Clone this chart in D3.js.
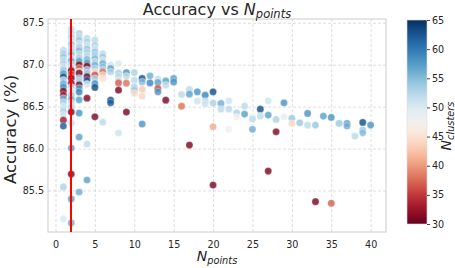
<!DOCTYPE html>
<html><head><meta charset="utf-8">
<script src="https://cdn.jsdelivr.net/npm/d3@7"></script>
<style>body{margin:0;background:#fff} svg{display:block}</style>
</head><body><svg id="c" width="455" height="268"></svg>
<script>
// ---- data ----
const nPoints = [1,2,3,4,5,6,7,8,9,10,11,12,13,14,15,16,17,18,19,20,21,22,23,24,25,26,27,28,29,30,31,32,33,34,35,36,37,38,39,40];
const accuracy = [
  [87.173,87.133,87.093,87.054,87.014,86.974,86.935,86.895,86.855,86.815,86.776,86.736,86.685,86.637,86.598,86.550,86.498,86.446,86.399,86.339,86.268,85.542,85.161],
  [87.423,87.375,87.327,87.286,87.244,87.202,87.161,87.119,87.077,87.042,87.006,86.970,86.929,86.887,86.839,86.780,86.732,86.685,86.637,86.589,86.542,86.494,86.435,86.304,86.006,85.696,85.399,85.113],
  [87.375,87.333,87.292,87.250,87.208,87.167,87.125,87.083,87.042,86.998,86.958,86.917,86.899,86.839,86.804,86.760,86.720,86.673,86.581,86.423,86.137,85.482],
  [87.315,87.274,87.232,87.190,87.149,87.107,87.065,87.024,86.982,86.940,86.899,86.857,86.815,86.768,86.601,86.054,85.625],
  [87.292,87.232,87.193,87.152,87.113,87.074,87.033,86.994,86.955,86.914,86.875,86.836,86.776,86.729,86.379],
  [87.133,87.093,87.054,87.014,86.974,86.943,86.914,86.875,86.836,86.315],
  [86.994,86.955,86.914,86.577,86.545],
  [87.014,86.902,86.863,86.815,86.783,86.696,86.185],
  [86.907,86.863,86.780,86.435],
  [86.907,86.815,86.732,86.696,86.661],
  [86.836,86.795,86.705,86.625,86.292],
  [86.867,86.783],
  [86.827,86.788,86.717,86.676],
  [86.807,86.756,86.577],
  [86.836,86.795],
  [86.645,86.506],
  [86.705,86.649,86.042],
  [86.676,86.565],
  [86.637,86.565,86.530],
  [86.676,86.542,86.260,85.565],
  [86.538,86.470],
  [86.569,86.470,86.229],
  [86.426,86.375],
  [86.506,86.411],
  [86.379,86.351,86.229],
  [86.470,86.387],
  [86.569,86.399,85.732],
  [86.348,86.200],
  [86.545,86.379],
  [86.360,86.300],
  [86.307],
  [86.419,86.280],
  [86.280,85.367],
  [86.387],
  [86.371,85.348],
  [86.300],
  [86.300,86.268],
  [86.149],
  [86.312,86.220,86.188],
  [86.280]
];
const nClusters = [
  [52,53,54,52,53,51,54,57,63,52,56,58,31,33,56,53,51,53,51,33,62,53,50],
  [52,52,53,51,54,52,53,55,51,57,53,52,31,36,31,32,53,51,54,56,52,53,31,52,57,31,57,56],
  [53,52,54,51,53,55,52,53,57,31,38,51,31,54,53,31,57,59,57,58,57,56],
  [52,53,51,54,53,52,55,57,31,53,54,31,62,51,31,52,57],
  [52,53,51,54,53,55,52,56,53,44,36,53,58,63,31],
  [52,54,51,56,55,53,38,43,45,52],
  [51,57,53,63,62],
  [50,53,52,51,37,31,51],
  [58,52,38,31],
  [53,52,53,54,44],
  [63,55,43,44,58],
  [56,59],
  [52,57,36,58],
  [57,52,31],
  [57,58],
  [52,38],
  [52,57,31],
  [58,51],
  [59,52,51],
  [63,53,41,31],
  [56,52],
  [51,52,47],
  [53,47],
  [52,57],
  [48,52,56],
  [63,52],
  [51,57,31],
  [53,31],
  [58,49],
  [54,44],
  [54],
  [58,52],
  [54,31],
  [57],
  [58,37],
  [54],
  [57,56],
  [52],
  [63,54,55],
  [58]
];
const xTicks = [0,5,10,15,20,25,30,35,40];
const yTicks = [85.5,86.0,86.5,87.0,87.5];
const cbTicks = [30,35,40,45,50,55,60,65];
const refLine = 2;

// ---- layout ----
const svg = d3.select("#c");
const L = 48, R = 386, T = 19, B = 232;
const x = d3.scaleLinear().domain([-0.95, 41.95]).range([L, R]);
const y = d3.scaleLinear().domain([85.005, 87.545]).range([B, T]);
const cScale = d3.scaleSequential(d3.interpolateRdBu).domain([30, 65]);
const font = "'DejaVu Sans', sans-serif";
const tickColor = "#262626";

// grid + axes
const gx = svg.append("g").attr("transform", `translate(0,${B})`)
  .call(d3.axisBottom(x).tickValues(xTicks).tickFormat(d3.format("d")).tickSize(-(B - T)).tickSizeOuter(0).tickPadding(9));
const gy = svg.append("g").attr("transform", `translate(${L},0)`)
  .call(d3.axisLeft(y).tickValues(yTicks).tickFormat(d3.format(".1f")).tickSize(-(R - L)).tickSizeOuter(0).tickPadding(4));
[gx, gy].forEach(g => {
  g.select(".domain").remove();
  g.selectAll(".tick line").attr("stroke", "#d4d4d4").attr("stroke-width", 0.8).attr("stroke-dasharray", "3,2");
  g.selectAll(".tick text").attr("fill", tickColor).style("font-family", font).style("font-size", "9.6px");
});
// spines
svg.append("rect").attr("x", L).attr("y", T).attr("width", R - L).attr("height", B - T)
  .attr("fill", "none").attr("stroke", "#cccccc").attr("stroke-width", 1);

// points
const pts = [];
nPoints.forEach((n, i) => accuracy[i].forEach((a, j) => pts.push({n, a, c: nClusters[i][j]})));
svg.append("g").selectAll("circle").data(pts).join("circle")
  .attr("cx", d => x(d.n)).attr("cy", d => y(d.a)).attr("r", 3.6)
  .attr("fill", d => cScale(d.c)).attr("fill-opacity", 0.82)
  .attr("stroke", "#ffffff").attr("stroke-width", 0.3);

// reference line
svg.append("rect").attr("x", Math.round(x(refLine)) - 1).attr("y", T).attr("width", 2).attr("height", B - T)
  .attr("fill", "#ff0000").attr("shape-rendering", "crispEdges");

// title
const title = svg.append("text").attr("x", (L + R) / 2).attr("y", 15).attr("text-anchor", "middle")
  .attr("fill", tickColor).style("font-family", font).style("font-size", "16px");
title.append("tspan").text("Accuracy vs ");
title.append("tspan").style("font-style", "italic").text("N");
title.append("tspan").style("font-style", "italic").style("font-size", "11.5px").attr("dy", 3.3).text("points");

// x label
const xl = svg.append("text").attr("x", (L + R) / 2).attr("y", 260.5).attr("text-anchor", "middle")
  .attr("fill", tickColor).style("font-family", font).style("font-style", "italic").style("font-size", "14px");
xl.append("tspan").text("N");
xl.append("tspan").style("font-size", "9.8px").attr("dy", 3).text("points");

// y label
svg.append("text").attr("transform", `translate(16,${(T + B) / 2 + 4}) rotate(-90)`).attr("text-anchor", "middle")
  .attr("fill", tickColor).style("font-family", font).style("font-size", "16.5px").text("Accuracy (%)");

// colorbar
const cbX = 407, cbW = 20, cbT = 20, cbB = 224;
const cy = d3.scaleLinear().domain([30, 65]).range([cbB, cbT]);
const defs = svg.append("defs");
const grad = defs.append("linearGradient").attr("id", "cbg").attr("x1", 0).attr("y1", 1).attr("x2", 0).attr("y2", 0);
d3.range(0, 1.0001, 0.05).forEach(t => grad.append("stop").attr("offset", t).attr("stop-color", d3.interpolateRdBu(t)));
svg.append("rect").attr("x", cbX).attr("y", cbT).attr("width", cbW).attr("height", cbB - cbT)
  .attr("fill", "url(#cbg)").attr("stroke", "#dddddd").attr("stroke-width", 0.6);
const gc = svg.append("g").attr("transform", `translate(${cbX + cbW},0)`)
  .call(d3.axisRight(cy).tickValues(cbTicks).tickSize(3).tickSizeOuter(0).tickPadding(2));
gc.select(".domain").remove();
gc.selectAll(".tick line").attr("stroke", "#444");
gc.selectAll(".tick text").attr("fill", tickColor).style("font-family", font).style("font-size", "9.6px");

// colorbar label
const cl = svg.append("text").attr("transform", `translate(451,${(cbT + cbB) / 2 + 4}) rotate(-90)`).attr("text-anchor", "middle")
  .attr("fill", tickColor).style("font-family", font).style("font-style", "italic").style("font-size", "14px");
cl.append("tspan").text("N");
cl.append("tspan").style("font-size", "9.8px").attr("dy", 3).text("clusters");
</script></body></html>
